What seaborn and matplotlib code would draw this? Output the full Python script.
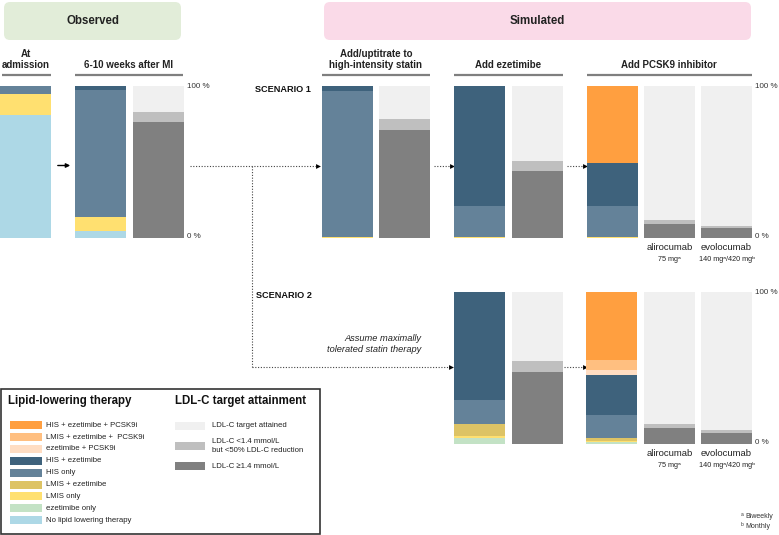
import numpy as np
import matplotlib
matplotlib.use("Agg")
import matplotlib.pyplot as plt
import seaborn as sns
from matplotlib.patches import FancyBboxPatch, Rectangle

# --- Data (percent of patients, stacked bottom-up) ---
therapy_names = ["No lipid lowering therapy", "ezetimibe only", "LMIS only", "LMIS + ezetimibe",
                 "HIS only", "HIS + ezetimibe", "ezetimibe + PCSK9i",
                 "LMIS + ezetimibe +  PCSK9i", "HIS + ezetimibe + PCSK9i"]
therapy_colors = ["#ADD8E6", "#C3E2C5", "#FFE070", "#DDC365",
                  "#648299", "#3E627C", "#FFDDC2", "#FFBF80", "#FF9F40"]

admission = [80.6, 0, 14.1, 0, 5.3, 0, 0, 0, 0]
followup = [4.4, 0, 9.2, 0, 83.8, 2.6, 0, 0, 0]
s1_statin = [0, 0, 0.8, 0, 96.2, 3.0, 0, 0, 0]
s1_ezetimibe = [0, 0, 0.8, 0, 20.2, 79.0, 0, 0, 0]
s1_pcsk9 = [0, 0, 0.8, 0, 20.2, 28.3, 0, 0, 50.7]
s2_ezetimibe = [0, 4.2, 0.8, 8.2, 15.8, 71.0, 0, 0, 0]
s2_pcsk9 = [0, 1.2, 0.6, 2.0, 15.4, 26.0, 3.7, 6.4, 44.7]

ldl_names = ["LDL-C \u22651.4 mmol/L", "LDL-C <1.4 mmol/L\nbut <50% LDL-C reduction", "LDL-C target attained"]
ldl_colors = ["#808080", "#BFBFBF", "#F0F0F0"]

followup_ldl = [76.5, 6.4, 17.1]
s1_statin_ldl = [71.1, 7.2, 21.7]
s1_ezetimibe_ldl = [44.1, 6.6, 49.3]
s1_alirocumab = [9.2, 2.6, 88.2]
s1_evolocumab = [6.4, 1.5, 92.1]
s2_ezetimibe_ldl = [47.6, 6.8, 45.6]
s2_alirocumab = [10.4, 2.8, 86.8]
s2_evolocumab = [7.4, 1.8, 90.8]

pcsk9_drugs = ["alirocumab", "evolocumab"]
pcsk9_doses = ["75 mg\u1d43", "140 mg\u1d43/420 mg\u1d47"]

# --- Setup ---
sns.set_theme(style="white")
plt.rcParams['font.family'] = ['Liberation Sans', 'DejaVu Sans']

W, H = 779, 535
fig = plt.figure(figsize=(W / 100, H / 100), dpi=100)

ov = fig.add_axes([0, 0, 1, 1])
ov.set_xlim(0, W)
ov.set_ylim(H, 0)
ov.axis('off')


def draw_stack(x0, y0, values, colors, w=51, h=152):
    ax = fig.add_axes([x0 / W, 1 - (y0 + h) / H, w / W, h / H])
    cum = np.cumsum(values)
    for top, v, col in reversed(list(zip(cum, values, colors))):
        if v <= 0:
            continue
        sns.barplot(x=[0], y=[top], color=col, width=1, saturation=1,
                    errorbar=None, linewidth=0, ax=ax)
    ax.set_xlim(-0.5, 0.5)
    ax.set_ylim(0, 100)
    ax.axis('off')
    return ax


# --- Bars ---
R1, R2 = 86, 292
draw_stack(0, R1, admission, therapy_colors)
draw_stack(75, R1, followup, therapy_colors)
draw_stack(133, R1, followup_ldl, ldl_colors)
draw_stack(322, R1, s1_statin, therapy_colors)
draw_stack(379, R1, s1_statin_ldl, ldl_colors)
draw_stack(454, R1, s1_ezetimibe, therapy_colors)
draw_stack(512, R1, s1_ezetimibe_ldl, ldl_colors)
draw_stack(587, R1, s1_pcsk9, therapy_colors)
draw_stack(644, R1, s1_alirocumab, ldl_colors)
draw_stack(701, R1, s1_evolocumab, ldl_colors)
draw_stack(454, R2, s2_ezetimibe, therapy_colors)
draw_stack(512, R2, s2_ezetimibe_ldl, ldl_colors)
draw_stack(586, R2, s2_pcsk9, therapy_colors)
draw_stack(644, R2, s2_alirocumab, ldl_colors)
draw_stack(701, R2, s2_evolocumab, ldl_colors)

# --- Header boxes ---
ov.add_patch(FancyBboxPatch((4, 2), 177, 38, boxstyle="round,pad=0,rounding_size=6",
                            fc="#E2EDD9", ec="none"))
ov.add_patch(FancyBboxPatch((324, 2), 427, 38, boxstyle="round,pad=0,rounding_size=6",
                            fc="#FADAE8", ec="none"))
ov.text(93, 21, "Observed", ha='center', va='center', fontsize=8.3, weight='bold', color='#222')
ov.text(537, 21, "Simulated", ha='center', va='center', fontsize=8.3, weight='bold', color='#222')

# --- Column headers ---
headers = [("At\nadmission", 26, 2, 51), ("6-10 weeks after MI", 129, 75, 183),
           ("Add/uptitrate to\nhigh-intensity statin", 376, 322, 430),
           ("Add ezetimibe", 508, 454, 563), ("Add PCSK9 inhibitor", 669, 587, 752)]
for txt, xc, xa, xb in headers:
    ov.text(xc, 70.5, txt, ha='center', va='bottom', fontsize=7, weight='bold',
            color='#222', linespacing=1.2)
    ov.plot([xa, xb], [75, 75], color='#7f7f7f', lw=1.6, solid_capstyle='butt')

# --- Percent labels ---
for x, yt, yb in [(187, R1, R1 + 152), (755, R1, R1 + 152), (755, R2, R2 + 152)]:
    ov.text(x, yt + 1, "100 %", ha='left', va='center', fontsize=5.8, color='#333')
    ov.text(x, yb - 1, "0 %", ha='left', va='center', fontsize=5.8, color='#333')

# --- PCSK9 sub labels ---
for y in [248, 454]:
    for xc, drug, dose in zip([669.5, 726.5], pcsk9_drugs, pcsk9_doses):
        ov.text(xc, y, drug, ha='center', va='center', fontsize=6.8, color='#222')
        ov.text(xc, y + 11.5, dose, ha='center', va='center', fontsize=5.2, color='#222')

ov.text(255, 90, "SCENARIO 1", ha='left', va='center', fontsize=6.6, weight='bold', color='#111')
ov.text(256, 296, "SCENARIO 2", ha='left', va='center', fontsize=6.6, weight='bold', color='#111')
ov.text(421, 344, "Assume maximally\ntolerated statin therapy", ha='right', va='center',
        fontsize=6.7, style='italic', color='#222', linespacing=1.3)

# footnotes
for y, sup, note in [(516, "a", "Biweekly"), (526, "b", "Monthly")]:
    ov.text(741, y - 1.5, sup, ha='left', va='center', fontsize=3.5, color='#333')
    ov.text(745, y, note, ha='left', va='center', fontsize=5, color='#333')

# --- Arrows ---
ov.annotate("", xy=(73, 165.5), xytext=(55, 165.5),
            arrowprops=dict(arrowstyle='-|>', color='black', lw=1, mutation_scale=6))
dot = dict(ls=(0, (1, 1.5)), color='#444', lw=0.8)
ov.plot([190, 316], [165.5, 165.5], **dot)
ov.plot([252, 252], [165.5, 366.5], **dot)
ov.plot([252, 449], [366.5, 366.5], **dot)
ov.plot([434, 450], [165.5, 165.5], **dot)
ov.plot([567, 583], [165.5, 165.5], **dot)
ov.plot([564, 583], [366.5, 366.5], **dot)
for xh, yh in [(318, 165.5), (452, 165.5), (585, 165.5), (451, 366.5), (585, 366.5)]:
    ov.plot(xh, yh, marker='>', ms=3.5, color='black', mew=0)

# --- Legend ---
ov.add_patch(Rectangle((1, 388.5), 319, 145.5, fc='white', ec='#333', lw=1.2))
ov.text(8, 401, "Lipid-lowering therapy", ha='left', va='center', fontsize=8.3, weight='bold', color='#111')
ov.text(175, 401, "LDL-C target attainment", ha='left', va='center', fontsize=8.3, weight='bold', color='#111')

for i, (name, col) in enumerate(zip(therapy_names[::-1], therapy_colors[::-1])):
    yc = 425.3 + i * 11.84
    ov.add_patch(Rectangle((10, yc - 4), 32, 8, fc=col, ec='none'))
    ov.text(46, yc, name, ha='left', va='center', fontsize=5.6, color='#222')

for yc, name, col in zip([425.5, 446, 466], ldl_names[::-1], ldl_colors[::-1]):
    ov.add_patch(Rectangle((175, yc - 4), 30, 8, fc=col, ec='none'))
    ov.text(212, yc, name, ha='left', va='center', fontsize=5.6, color='#222', linespacing=1.35)

fig.savefig("out.png", dpi=100)
